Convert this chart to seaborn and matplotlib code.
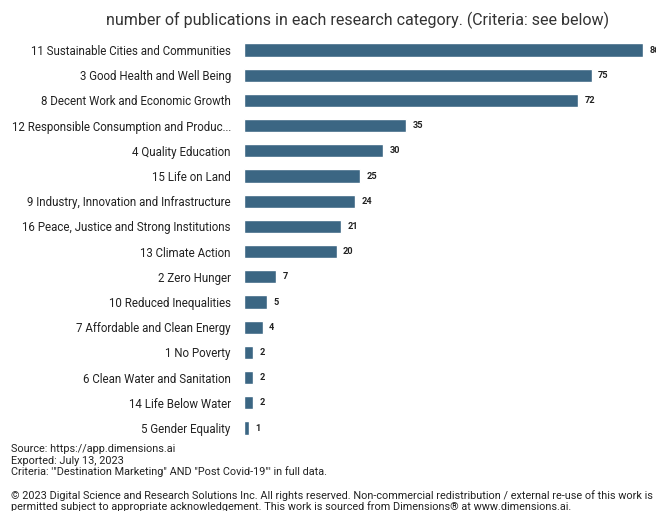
import matplotlib
matplotlib.use("Agg")
import matplotlib.pyplot as plt
import seaborn as sns
import pandas as pd

categories = [
    "11 Sustainable Cities and Communities",
    "3 Good Health and Well Being",
    "8 Decent Work and Economic Growth",
    "12 Responsible Consumption and Produc...",
    "4 Quality Education",
    "15 Life on Land",
    "9 Industry, Innovation and Infrastructure",
    "16 Peace, Justice and Strong Institutions",
    "13 Climate Action",
    "2 Zero Hunger",
    "10 Reduced Inequalities",
    "7 Affordable and Clean Energy",
    "1 No Poverty",
    "6 Clean Water and Sanitation",
    "14 Life Below Water",
    "5 Gender Equality",
]
values = [86, 75, 72, 35, 30, 25, 24, 21, 20, 7, 5, 4, 2, 2, 2, 1]

sns.set_theme(style="white")
plt.rcParams['font.family'] = ['Roboto', 'DejaVu Sans']

df = pd.DataFrame({"category": categories, "count": values})

W, H = 656, 511
fig = plt.figure(figsize=(W / 100, H / 100), dpi=100)
ax = fig.add_axes([244 / W, 1 - 440.6 / H, (643 - 244) / W, 403.2 / H])

sns.barplot(data=df, y="category", x="count", color="#3b6683", width=0.52,
            saturation=1, ax=ax, orient="h")
ax.set_xlim(0, 86)
ax.set_ylim(15.5, -0.5)
ax.set_xlabel("")
ax.set_ylabel("")
ax.set_xticks([])
for s in ax.spines.values():
    s.set_visible(False)
ax.tick_params(axis="y", length=0, pad=9.5, labelsize=8.3, labelcolor="#222222")

for i, v in enumerate(values):
    ax.annotate(str(v), (v, i), xytext=(4.5, 0), textcoords="offset points",
                va="center", ha="left", fontsize=6.6, fontweight="bold",
                color="#222222", annotation_clip=False)

fig.text(358 / W, 1 - 20 / H, "number of publications in each research category. (Criteria: see below)",
         ha="center", va="center", fontsize=11.5, color="#333333")

foot = [
    (449, "Source: https://app.dimensions.ai"),
    (461, "Exported: July 13, 2023"),
    (472, 'Criteria: \'"Destination Marketing" AND "Post Covid-19"\' in full data.'),
    (496, "© 2023 Digital Science and Research Solutions Inc. All rights reserved. Non-commercial redistribution / external re-use of this work is"),
    (507, "permitted subject to appropriate acknowledgement. This work is sourced from Dimensions® at www.dimensions.ai."),
]
for y, t in foot:
    fig.text(11 / W, 1 - y / H, t, ha="left", va="center", fontsize=7.8, color="#222222")

fig.savefig("out.png", dpi=100)
